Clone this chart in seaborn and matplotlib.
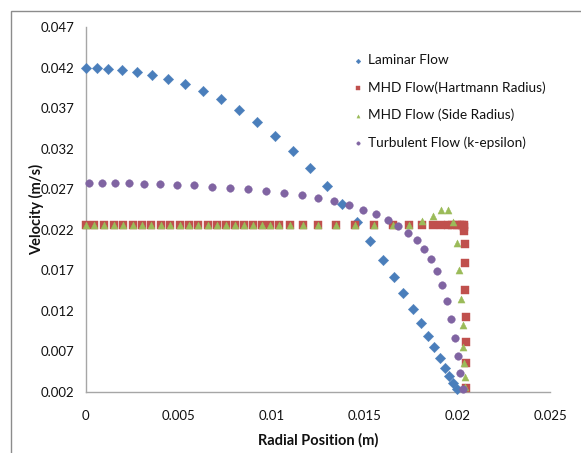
import matplotlib
matplotlib.use("Agg")
import matplotlib.pyplot as plt
import seaborn as sns
import pandas as pd
from matplotlib.patches import Rectangle

sns.set_theme(style="white")
plt.rcParams['font.family'] = ['Lato', 'DejaVu Sans']

# ---------------- data ----------------
laminar_x = [0.0, 0.00059, 0.00122, 0.00195, 0.00275, 0.00357, 0.00443, 0.00535, 0.0063, 0.00727,
             0.00827, 0.00924, 0.01021, 0.01118, 0.0121, 0.01298, 0.01382, 0.01459, 0.01531, 0.01599,
             0.01659, 0.0171, 0.01763, 0.01806, 0.01843, 0.01877, 0.01908, 0.01933, 0.01958, 0.0198, 0.01998]
laminar_y = [0.04194, 0.04194, 0.04189, 0.04173, 0.04148, 0.04115, 0.04062, 0.040, 0.03917, 0.03811,
             0.03683, 0.03535, 0.03362, 0.03173, 0.02967, 0.02741, 0.02519, 0.02290, 0.02058, 0.01827,
             0.01614, 0.01416, 0.01226, 0.01053, 0.00889, 0.00749, 0.00617, 0.00497, 0.00399, 0.00312, 0.0023]

hart_x = [0.0, 0.00045, 0.001, 0.00153, 0.00203, 0.00253, 0.00303, 0.00353, 0.00405, 0.00456,
          0.00506, 0.00556, 0.00606, 0.00657, 0.00705, 0.00754, 0.00804, 0.00854, 0.009, 0.00948,
          0.00993, 0.01043, 0.011, 0.01169, 0.01253, 0.01348, 0.0145, 0.01554, 0.01653, 0.0174,
          0.01809, 0.01868, 0.01913, 0.01949, 0.01975, 0.01998, 0.02015, 0.02027, 0.02035,
          0.02036, 0.02038, 0.0204, 0.02043, 0.02045, 0.02046, 0.02046, 0.02046, 0.02046]
hart_y = [0.0226] * 39 + [0.0224, 0.0218, 0.0203, 0.0179, 0.0146, 0.0112, 0.0081, 0.0055, 0.0025]

side_x = [0.0, 0.00045, 0.001, 0.00153, 0.00203, 0.00253, 0.00303, 0.00353, 0.00405, 0.00456,
          0.00506, 0.00556, 0.00606, 0.00657, 0.00705, 0.00754, 0.00804, 0.00854, 0.009, 0.00948,
          0.00993, 0.01043, 0.011, 0.01169, 0.01253, 0.01348, 0.0145, 0.01554, 0.01653, 0.0174,
          0.01809, 0.01868, 0.01913, 0.01949, 0.01976, 0.02001, 0.02012, 0.02022, 0.0203,
          0.02033, 0.02037, 0.02041, 0.02044]
side_y = [0.0226] * 30 + [0.0231, 0.0237, 0.02444, 0.02444, 0.0229, 0.02033, 0.01704, 0.01346,
                          0.01025, 0.00757, 0.00552, 0.00387, 0.00256]

turb_x = [0.0002, 0.00089, 0.00158, 0.00233, 0.00314, 0.004, 0.0049, 0.00583, 0.0068, 0.00777,
          0.00876, 0.00973, 0.01069, 0.01163, 0.01253, 0.01339, 0.0142, 0.01495, 0.01563, 0.01626,
          0.01684, 0.01736, 0.01782, 0.01823, 0.01861, 0.01893, 0.0192, 0.01947, 0.01969, 0.01987,
          0.02003, 0.02017, 0.0203]
turb_y = [0.02774, 0.02774, 0.02774, 0.02774, 0.02765, 0.02765, 0.02757, 0.0275, 0.02732, 0.0272,
          0.02704, 0.02683, 0.02658, 0.02626, 0.02593, 0.02552, 0.02506, 0.02449, 0.02395, 0.02325,
          0.02251, 0.02165, 0.0207, 0.01959, 0.01836, 0.01688, 0.01519, 0.01325, 0.01103, 0.00868,
          0.00642, 0.00428, 0.00235]

series_names = ["Laminar Flow", "MHD Flow(Hartmann Radius)", "MHD Flow (Side Radius)",
                "Turbulent Flow (k-epsilon)"]

x_ticks = [0, 0.005, 0.01, 0.015, 0.02, 0.025]
x_ticklabels = ["0", "0.005", "0.01", "0.015", "0.02", "0.025"]
y_ticks = [0.002, 0.007, 0.012, 0.017, 0.022, 0.027, 0.032, 0.037, 0.042, 0.047]
y_ticklabels = ["0.002", "0.007", "0.012", "0.017", "0.022", "0.027", "0.032", "0.037", "0.042", "0.047"]

# ---------------- figure ----------------
fig = plt.figure(figsize=(5.81, 4.53), dpi=100)
ax = fig.add_axes([85.7 / 581, 1 - 391.7 / 453, (550 - 85.7) / 581, (391.7 - 27.3) / 453])

# outer chart border (Excel chart area)
fig.patches.append(Rectangle((11 / 581, -0.1), 1.2, 1 - 11 / 453 + 0.1, transform=fig.transFigure,
                             fill=False, edgecolor="#8c8c8c", linewidth=1.0, zorder=0))

specs = [
    (laminar_x, laminar_y, "#4A7EBB", "D", 28),
    (hart_x, hart_y, "#C0504D", "s", 26),
    (side_x, side_y, "#9BBB59", "^", 26),
    (turb_x, turb_y, "#8064A2", "o", 30),
]
for (xs, ys, col, mk, sz), name in zip(specs, series_names):
    df = pd.DataFrame({"x": xs, "y": ys})
    sns.scatterplot(data=df, x="x", y="y", ax=ax, color=col, marker=mk, s=sz,
                    edgecolor=col, linewidth=0.3, label=name, clip_on=False, zorder=3)

ax.set_xlim(0, 0.025)
ax.set_ylim(0.002, 0.047)
ax.set_xticks(x_ticks)
ax.set_xticklabels(x_ticklabels)
ax.set_yticks(y_ticks)
ax.set_yticklabels(y_ticklabels)

for s in ["top", "right"]:
    ax.spines[s].set_visible(False)
for s in ["left", "bottom"]:
    ax.spines[s].set_color("#a6a6a6")
    ax.spines[s].set_linewidth(1.0)
ax.tick_params(axis="both", which="major", direction="out", length=4, width=1.0,
               color="#a6a6a6", labelsize=9.5, labelcolor="#111111", pad=4)
ax.tick_params(axis="x", pad=9)

ax.set_xlabel("Radial Position (m)", fontsize=10.5, fontweight="bold", color="#111111", labelpad=8)
ax.set_ylabel("Velocity (m/s)", fontsize=10.5, fontweight="bold", color="#111111", labelpad=-2)

leg = ax.legend(loc="upper left", bbox_to_anchor=(346 / 581, 1 - 49 / 453),
                bbox_transform=fig.transFigure, frameon=False, fontsize=9.8,
                markerscale=0.45, handletextpad=0.2, labelspacing=1.1, handlelength=1.0,
                borderaxespad=0)
for t in leg.get_texts():
    t.set_color("#111111")

fig.savefig("out.png", dpi=100)
